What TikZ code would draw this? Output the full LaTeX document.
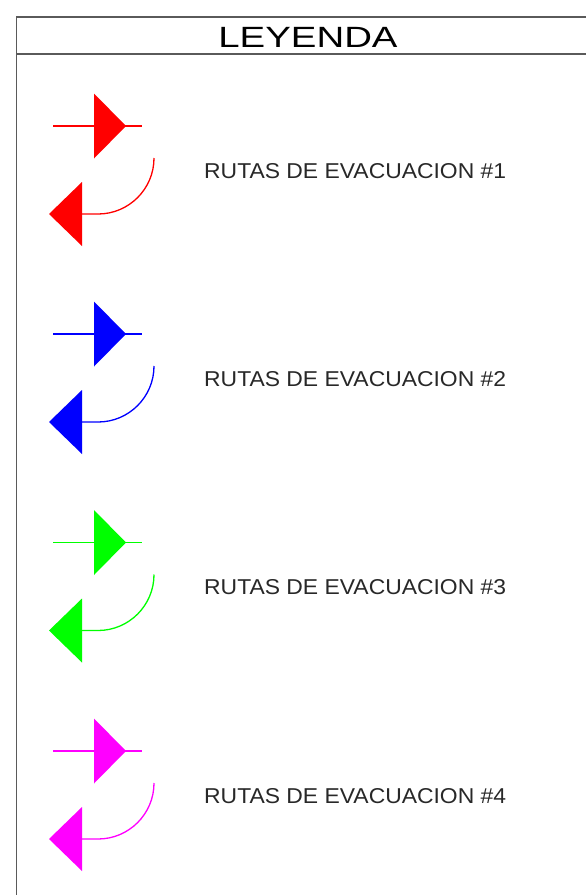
\documentclass[tikz,border=0pt]{standalone}
\usepackage{fontspec}
\setmainfont{Liberation Sans}
\definecolor{rred}{RGB}{255,0,0}
\definecolor{rblue}{RGB}{0,0,255}
\definecolor{rgreen}{RGB}{0,255,0}
\definecolor{rmag}{RGB}{255,0,255}
\definecolor{framec}{RGB}{90,90,90}
\definecolor{labelc}{RGB}{40,40,40}
\tikzset{
  frameline/.style={draw=framec, line width=1.3pt},
  routeline/.style={line width=1.3pt},
  labeltext/.style={anchor=base west, inner sep=0pt, text=labelc, font=\fontsize{21.5}{24}\selectfont},
}
\newcommand{\legendgroup}[4]{%
  % #1 name, #2 y0, #3 colour, #4 label
  \begin{scope}[shift={(0,#2)}]
    \draw[routeline, draw=#3] (53,0) -- (142,0);
    \fill[#3] (94,-32.5) -- (126,0) -- (94,32.5) -- cycle;
    \draw[routeline, draw=#3] (154,32) arc[start angle=0, end angle=90, radius=56] -- (82,88);
    \fill[#3] (82,56) -- (49,88) -- (82,120) -- cycle;
    \node[labeltext] (#1) at (204,52) {\scalebox{1.065}[1]{#4}};
  \end{scope}}
\begin{document}
\begin{tikzpicture}[x=1pt, y=-1pt]
  \useasboundingbox (0,0) rectangle (586,895);
  \fill[white] (0,0) rectangle (586,895);
  \coordinate (tl) at (16.5,17);
  \coordinate (tr) at (586,17);
  \coordinate (bl) at (16.5,895);
  \coordinate (ml) at (16.5,54);
  \coordinate (mr) at (586,54);
  \draw[frameline] (tr) -- (tl) -- (bl);
  \draw[frameline] (ml) -- (mr);
  \node[anchor=base, inner sep=0pt, font=\fontsize{29.3}{32}\selectfont] (title) at (308,47.3) {\scalebox{1.31}[1]{LEYENDA}};
  \legendgroup{l1}{126}{rred}{RUTAS DE EVACUACION \#1}
  \legendgroup{l2}{334}{rblue}{RUTAS DE EVACUACION \#2}
  \legendgroup{l3}{542.5}{rgreen}{RUTAS DE EVACUACION \#3}
  \legendgroup{l4}{751}{rmag}{RUTAS DE EVACUACION \#4}
\end{tikzpicture}
\end{document}
